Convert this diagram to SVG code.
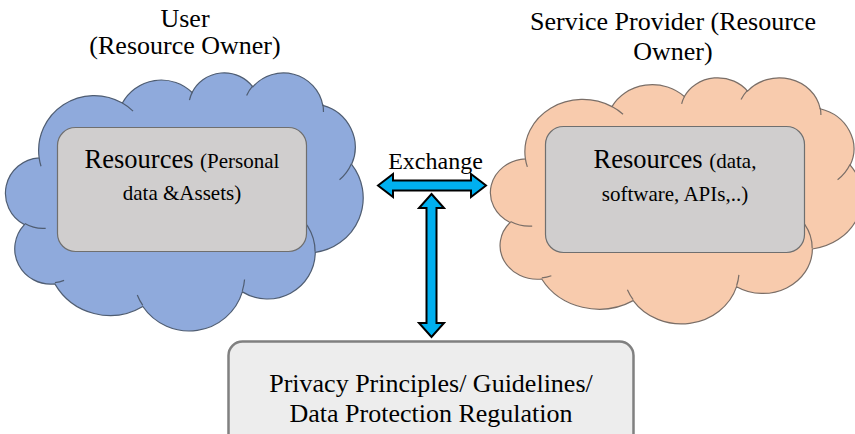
<svg xmlns="http://www.w3.org/2000/svg" xmlns:xlink="http://www.w3.org/1999/xlink" width="855" height="434" viewBox="0 0 855 434">
  <defs>
    <!-- Cloud outline in a 43200 x 43200 unit box -->
    <path id="cloud-shape" vector-effect="non-scaling-stroke" d="M 3900 14370 A 6753 9190 0 0 1 14005 5202 A 5333 7267 0 0 1 22458 3436 A 4365 5945 0 0 1 29836 2484 A 4857 6595 0 0 1 38320 5579 A 5333 7273 0 0 1 41821 15463 A 6775 9220 0 0 1 37407 30207 A 5785 7867 0 0 1 28558 36817 A 6752 9215 0 0 1 16483 39269 A 7720 10543 0 0 1 5807 35475 A 4360 5918 0 0 1 2116 25554 A 4345 5945 0 0 1 3900 14370 Z"/>
    <!-- Small inner arcs where the puffs meet -->
    <path id="cloud-folds" vector-effect="non-scaling-stroke" fill="none" d="M 4693 26177 A 4345 5945 0 0 1 2160 25380 M 6928 34899 A 4360 5918 0 0 1 5820 35281 M 16478 39090 A 6752 9215 0 0 1 15810 37349 M 28827 34751 A 6752 9215 0 0 1 28560 36660 M 34129 22954 A 5785 7867 0 0 1 37381 30090 M 41798 15354 A 5333 7273 0 0 1 40350 18030 M 38324 5426 A 4857 6595 0 0 1 38401 6690 M 29078 3952 A 4857 6595 0 0 1 29820 2339 M 22141 4720 A 4365 5945 0 0 1 22500 3331 M 14000 5192 A 6753 9190 0 0 1 15300 6541 M 4127 15789 A 6753 9190 0 0 1 3900 14370"/>
  </defs>
  <style>
    .title { font-family: "Liberation Serif", "Times New Roman", serif; font-size: 26px; fill: #000; text-anchor: middle; }
    .res { font-family: "Liberation Serif", "Times New Roman", serif; font-size: 26.5px; fill: #000; text-anchor: middle; }
    .small { font-size: 21px; }
    .label { font-family: "Liberation Serif", "Times New Roman", serif; font-size: 24px; fill: #000; text-anchor: middle; }
    .user-cloud { fill: #8faadc; stroke: #4f5d72; stroke-width: 1.2; }
    .provider-cloud { fill: #f8cbad; stroke: #7a6e67; stroke-width: 1.2; }
    .resource-box { fill: #d0cece; stroke: #6f6f6f; stroke-width: 1.2; }
    .policy-box { fill: #ededed; stroke: #808080; stroke-width: 2.5; }
    .arrow { fill: #00b0f0; stroke: #000; stroke-width: 2; stroke-linejoin: miter; }
  </style>

  <rect width="855" height="434" fill="#ffffff"/>

  <!-- User side -->
  <g id="user">
    <text class="title" x="185" y="27">User</text>
    <text class="title" x="185" y="54">(Resource Owner)</text>
    <g class="user-cloud" transform="translate(7 72) scale(0.0082407 0.0059722)">
      <use xlink:href="#cloud-shape"/>
      <use xlink:href="#cloud-folds" fill="none"/>
    </g>
    <g id="user-resources">
      <rect class="resource-box" x="57.5" y="127.5" width="249" height="124" rx="18" ry="18"/>
      <text class="res" x="182" y="168">Resources <tspan class="small">(Personal</tspan></text>
      <text class="res small" x="182" y="200">data &amp;Assets)</text>
    </g>
  </g>

  <!-- Service provider side -->
  <g id="provider">
    <text class="title" x="673" y="30">Service Provider (Resource</text>
    <text class="title" x="673" y="60">Owner)</text>
    <g class="provider-cloud" transform="translate(492 77) scale(0.0085648 0.0056944)">
      <use xlink:href="#cloud-shape"/>
      <use xlink:href="#cloud-folds" fill="none"/>
    </g>
    <g id="provider-resources">
      <rect class="resource-box" x="545.5" y="126.5" width="259" height="126" rx="18" ry="18"/>
      <text class="res" x="675" y="168">Resources <tspan class="small">(data,</tspan></text>
      <text class="res small" x="675" y="201">software, APIs,..)</text>
    </g>
  </g>

  <!-- Regulation box -->
  <g id="regulation">
    <rect class="policy-box" x="228.5" y="341.5" width="405" height="130" rx="14" ry="14"/>
    <text class="title" x="431" y="392">Privacy Principles/ Guidelines/</text>
    <text class="title" x="431" y="422">Data Protection Regulation</text>
  </g>

  <!-- Connectors -->
  <g id="connectors">
    <path class="arrow" d="M378 185.5 L393 174 L393 180.5 L471 180.5 L471 174 L486 185.5 L471 197 L471 190.5 L393 190.5 L393 197 Z"/>
    <path class="arrow" d="M431.5 194 L444 208 L436.5 208 L436.5 323 L444 323 L431.5 337 L419 323 L426.5 323 L426.5 208 L419 208 Z"/>
    <text class="label" x="435.5" y="169">Exchange</text>
  </g>
</svg>
